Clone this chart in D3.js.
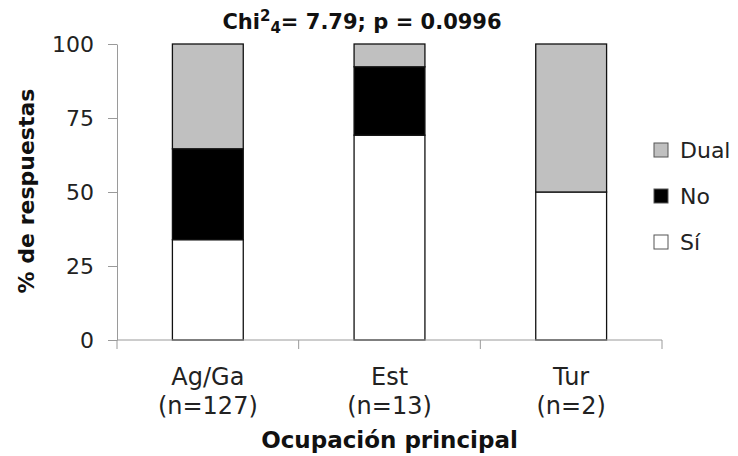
<!DOCTYPE html>
<html>
<head>
<meta charset="utf-8">
<script src="https://cdn.jsdelivr.net/npm/d3@7"></script>
<style>
  body { margin: 0; background: #fff; }
  svg { display: block; font-family: "DejaVu Sans", Verdana, sans-serif; }
</style>
</head>
<body>
<svg id="chart"></svg>
<script>
// data (percent of answers per occupation)
const categories = ["Ag/Ga", "Est", "Tur"];
const sampleSizes = ["(n=127)", "(n=13)", "(n=2)"];
const seriesKeys = ["Sí", "No", "Dual"];
const siValues = [33.9, 69.2, 50];
const noValues = [30.7, 23.1, 0];
const dualValues = [35.4, 7.7, 50];
const yTicks = [0, 25, 50, 75, 100];

const colors = { "Sí": "#ffffff", "No": "#000000", "Dual": "#c0c0c0" };

const width = 738, height = 456;
const plotLeft = 117, plotRight = 662, plotTop = 44, plotBottom = 340;

const rows = categories.map((c, i) => ({ cat: c, "Sí": siValues[i], "No": noValues[i], "Dual": dualValues[i] }));
const stacked = d3.stack().keys(seriesKeys)(rows);

const svg = d3.select("#chart")
    .attr("width", width)
    .attr("height", height);

const x = d3.scaleBand()
    .domain(categories)
    .range([plotLeft, plotRight]);

const y = d3.scaleLinear()
    .domain([0, 100])
    .range([plotBottom, plotTop]);

const barWidth = x.bandwidth() * 0.39;

// y axis
const yAxis = svg.append("g")
    .attr("transform", `translate(${plotLeft},0)`)
    .call(d3.axisLeft(y).tickValues(yTicks).tickSize(9).tickSizeOuter(0).tickPadding(14));
yAxis.select(".domain").attr("stroke", "#9a9a9a");
yAxis.selectAll(".tick line").attr("stroke", "#9a9a9a");
yAxis.selectAll(".tick text")
    .attr("font-size", 22)
    .attr("fill", "#222")
    .attr("font-family", "DejaVu Sans");

// bars
svg.append("g")
  .selectAll("g")
  .data(stacked)
  .join("g")
    .attr("fill", d => colors[d.key])
  .selectAll("rect")
  .data(d => d)
  .join("rect")
    .attr("x", d => x(d.data.cat) + (x.bandwidth() - barWidth) / 2)
    .attr("y", d => y(d[1]))
    .attr("width", barWidth)
    .attr("height", d => y(d[0]) - y(d[1]))
    .attr("stroke", "#111")
    .attr("stroke-width", 1.3);

// x axis (ticks between categories, Excel style)
const xAxis = svg.append("g");
xAxis.append("line")
    .attr("x1", plotLeft).attr("x2", plotRight)
    .attr("y1", y(0)).attr("y2", y(0))
    .attr("stroke", "#9a9a9a");
const boundaries = categories.map(c => x(c)).concat([plotRight]);
xAxis.selectAll("line.tick")
  .data(boundaries)
  .join("line")
    .attr("class", "tick")
    .attr("x1", d => d).attr("x2", d => d)
    .attr("y1", y(0)).attr("y2", y(0) + 9)
    .attr("stroke", "#9a9a9a");

const catLabels = xAxis.selectAll("g.cat")
  .data(categories)
  .join("g")
    .attr("class", "cat")
    .attr("transform", d => `translate(${x(d) + x.bandwidth() / 2},0)`);
catLabels.append("text")
    .attr("y", 385)
    .attr("text-anchor", "middle")
    .attr("font-size", 24)
    .attr("fill", "#222")
    .text(d => d);
catLabels.append("text")
    .attr("y", 414)
    .attr("text-anchor", "middle")
    .attr("font-size", 24)
    .attr("fill", "#222")
    .text((d, i) => sampleSizes[i]);

// axis titles
svg.append("text")
    .attr("x", (plotLeft + plotRight) / 2)
    .attr("y", 448)
    .attr("text-anchor", "middle")
    .attr("font-size", 23)
    .attr("font-weight", "bold")
    .attr("fill", "#111")
    .text("Ocupación principal");

svg.append("text")
    .attr("transform", "translate(34,191) rotate(-90)")
    .attr("text-anchor", "middle")
    .attr("font-size", 22)
    .attr("font-weight", "bold")
    .attr("fill", "#111")
    .text("% de respuestas");

// title with super/subscript
const title = svg.append("text")
    .attr("x", 362)
    .attr("y", 29)
    .attr("text-anchor", "middle")
    .attr("font-size", 21)
    .attr("font-weight", "bold")
    .attr("fill", "#111");
title.append("tspan").text("Chi");
title.append("tspan").attr("font-size", 15).attr("dy", -8).text("2");
title.append("tspan").attr("font-size", 15).attr("dy", 12).text("4");
title.append("tspan").attr("dy", -4).text("= 7.79; p = 0.0996");

// legend (top to bottom: Dual, No, Sí)
const legendKeys = seriesKeys.slice().reverse();
const legend = svg.append("g")
  .selectAll("g")
  .data(legendKeys)
  .join("g")
    .attr("transform", (d, i) => `translate(654,${143 + i * 46})`);
legend.append("rect")
    .attr("width", 14)
    .attr("height", 14)
    .attr("fill", d => colors[d])
    .attr("stroke", "#555")
    .attr("stroke-width", 1);
legend.append("text")
    .attr("x", 26)
    .attr("y", 15)
    .attr("font-size", 22)
    .attr("fill", "#222")
    .text(d => d);
</script>
</body>
</html>
